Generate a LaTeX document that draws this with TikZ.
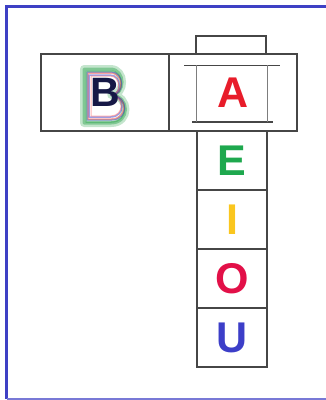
\documentclass[tikz,border=0pt]{standalone}
\usepackage{fontspec}
\setmainfont{Liberation Sans}
\usetikzlibrary{positioning}
\definecolor{FrameBlue}{RGB}{62,64,196}
\definecolor{CellLine}{RGB}{70,70,70}
\definecolor{VowelA}{RGB}{232,28,42}
\definecolor{VowelE}{RGB}{30,168,78}
\definecolor{VowelI}{RGB}{250,198,30}
\definecolor{VowelO}{RGB}{226,16,72}
\definecolor{VowelU}{RGB}{60,62,200}
\definecolor{HaloGreen}{RGB}{60,170,90}
\definecolor{InkB}{RGB}{22,24,70}

\begin{document}
\begin{tikzpicture}[
x=1pt,y=-1pt,
cell/.style={draw=CellLine,line width=1.2pt,inner sep=0pt,outer sep=0pt,minimum width=70pt,minimum height=59pt,font=\fontsize{43}{43}\selectfont\bfseries},
wide/.style={cell,minimum width=128pt,minimum height=77pt},
trace/.style={line width=#1,opacity=0.5,line join=round,line cap=round}
]
\useasboundingbox (0,0) rectangle (326,400);
\draw[FrameBlue,line width=3pt] (330,6) -- (6.5,6) -- (6.5,398.5);
\draw[FrameBlue!70,line width=1.2pt] (6.5,399) -- (330,399);
\node[wide] (cellB) at (105,92.5) {};
\node[wide,right=0pt of cellB,text=VowelA] (cellA) {A};
\node[cell,minimum height=18pt,anchor=south] (cap) at (231,54) {};
\node[cell,anchor=north,text=VowelE] (cellE) at (232,131) {E};
\node[cell,below=0pt of cellE,text=VowelI] (cellI) {I};
\node[cell,below=0pt of cellI,text=VowelO] (cellO) {O};
\node[cell,below=0pt of cellO,text=VowelU] (cellU) {U};
% lines inside the A cell
\draw[CellLine,line width=1pt] (184,65) -- (280,65);
\draw[CellLine,line width=1.6pt] (192,122) -- (273,122);
\draw[CellLine!70,line width=0.8pt] (196,65) -- (196,122);
\draw[CellLine!70,line width=0.8pt] (267,65) -- (267,122);
% traced outlines round the B
\foreach \px/\py/\w/\h/\col/\lw in {84/69/44/54/HaloGreen!60/8pt,84/69/44/54/HaloGreen/3pt,86/71/41/51/HaloGreen/1.5pt,88/73/38/46/red!70/1.5pt,89/75/35/42/VowelU/1.5pt,91/76/32/40/red!60/1pt,87/72/40/48/VowelU/1pt}
{
\begin{scope}[shift={(\px,\py)},xscale=\w,yscale=\h]
\draw[\col,trace=\lw] (0,0) -- (0.6,0) .. controls (0.95,0) and (0.95,0.48) .. (0.62,0.48)
  .. controls (1.05,0.5) and (1.05,1) .. (0.62,1) -- (0,1) -- cycle;
\end{scope}
}
\node[inner sep=0pt,font=\fontsize{41}{41}\selectfont\bfseries,text=InkB] (letterB) at (cellB.center) {B};
\end{tikzpicture}
\end{document}
